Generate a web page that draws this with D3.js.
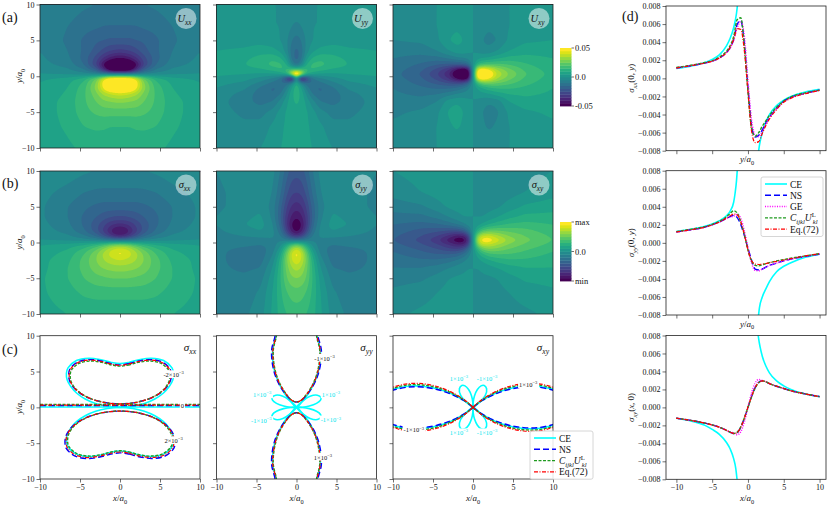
<!DOCTYPE html>
<html>
<head>
<meta charset="utf-8">
<script src="https://cdn.jsdelivr.net/npm/d3@7"></script>
<style>
body { margin: 0; background: #fff; }
svg text { font-family: "Liberation Serif", "DejaVu Serif", serif; fill: #111; }
</style>
</head>
<body>
<div id="chart"></div>
<script>
// ---------- maps (a) and (b): values on a coarse grid (x >= 0 half) ----------
const HX = [0, 0.6, 1.2, 2, 3, 4.5, 6.5, 10];
const HY = [10, 7, 5, 3.5, 2.5, 1.6, 0.9, 0.3, -0.3, -0.9, -1.6, -2.5, -3.5, -5, -7, -10];

// row (a), units of 1e-2 (colour bar -0.05 .. 0.05)
const uxx = [
  [-1.2,-1.2,-1.2,-1.1,-1.0,-0.9,-0.7,-0.5],
  [-1.5,-1.5,-1.5,-1.5,-1.4,-1.3,-1.0,-0.6],
  [-2.1,-2.1,-2.1,-2.0,-1.9,-1.6,-1.1,-0.6],
  [-3.2,-3.1,-3.0,-2.7,-2.2,-1.6,-1.0,-0.5],
  [-4.6,-4.5,-4.2,-3.6,-2.7,-1.7,-0.9,-0.4],
  [-6.0,-6.0,-5.8,-4.8,-3.0,-1.5,-0.7,-0.3],
  [-6.0,-6.0,-5.5,-3.8,-2.0,-0.9,-0.4,-0.1],
  [-1.0,-1.0,-1.0,-0.8,-0.5,-0.3,-0.1, 0.0],
  [ 6.0, 6.0, 5.8, 4.5, 2.6, 1.3, 0.7, 0.4],
  [ 6.0, 6.0, 6.0, 5.0, 3.0, 1.6, 0.9, 0.5],
  [ 6.0, 6.0, 5.8, 4.8, 3.2, 1.8, 1.0, 0.6],
  [ 4.2, 4.1, 3.9, 3.6, 2.8, 1.9, 1.1, 0.6],
  [ 3.1, 3.1, 3.0, 2.9, 2.5, 1.9, 1.2, 0.7],
  [ 2.2, 2.2, 2.2, 2.2, 2.1, 1.8, 1.2, 0.7],
  [ 1.5, 1.5, 1.5, 1.6, 1.6, 1.5, 1.1, 0.7],
  [ 1.0, 1.0, 1.0, 1.0, 1.1, 1.1, 0.9, 0.6]
];
const uyy = [
  [-0.2,-0.2,-0.1, 0.0, 0.0, 0.0, 0.0, 0.0],
  [-0.6,-0.5,-0.2, 0.0, 0.0, 0.1, 0.1, 0.1],
  [-1.3,-1.0,-0.4, 0.0, 0.2, 0.3, 0.3, 0.3],
  [-1.7,-1.3,-0.3, 0.4, 0.7, 0.8, 0.6, 0.5],
  [-1.8,-1.2, 0.3, 1.1, 1.4, 1.2, 0.9, 0.7],
  [-1.3,-0.4, 1.0, 1.7, 1.7, 1.3, 1.0, 0.8],
  [ 2.0, 2.0, 1.6, 1.5, 1.2, 0.9, 0.8, 0.8],
  [ 8.0, 5.0, 1.5, 0.6, 0.4, 0.4, 0.5, 0.6],
  [ 0.0,-6.0,-3.5,-1.2,-0.6,-0.2, 0.2, 0.4],
  [ 1.4,-0.6,-1.4,-1.4,-1.1,-0.6,-0.1, 0.2],
  [ 1.5, 0.6,-0.6,-1.5,-1.6,-1.1,-0.4, 0.0],
  [ 1.3, 0.9, 0.0,-1.0,-1.5,-1.3,-0.7,-0.2],
  [ 1.1, 0.9, 0.4,-0.3,-1.0,-1.2,-0.8,-0.3],
  [ 0.9, 0.8, 0.6, 0.2,-0.3,-0.7,-0.6,-0.3],
  [ 0.7, 0.7, 0.6, 0.4, 0.1,-0.3,-0.4,-0.3],
  [ 0.6, 0.6, 0.6, 0.5, 0.3, 0.0,-0.2,-0.2]
];
const uxy = [
  [0, 0.0, 0.0,-0.1,-0.1, 0.0, 0.1, 0.2],
  [0,-0.1,-0.3,-0.4,-0.3, 0.0, 0.2, 0.3],
  [0,-0.2,-0.5,-0.7,-0.5, 0.1, 0.4, 0.5],
  [0,-0.1,-0.3,-0.3, 0.0, 0.5, 0.8, 0.8],
  [0, 0.3, 0.5, 0.6, 0.9, 1.2, 1.2, 1.0],
  [0, 1.5, 2.0, 2.2, 2.2, 2.0, 1.6, 1.1],
  [0, 5.0, 5.5, 4.8, 3.6, 2.7, 1.9, 1.2],
  [0, 6.0, 6.0, 5.5, 4.0, 3.0, 2.1, 1.3],
  [0, 5.0, 5.5, 4.8, 3.6, 2.7, 1.9, 1.2],
  [0, 1.8, 2.6, 2.8, 2.6, 2.2, 1.7, 1.1],
  [0, 0.6, 1.0, 1.4, 1.6, 1.6, 1.4, 1.0],
  [0, 0.2, 0.3, 0.4, 0.7, 1.0, 1.1, 0.9],
  [0,-0.1,-0.3,-0.4,-0.3, 0.5, 0.8, 0.8],
  [0,-0.2,-0.5,-0.8,-0.6, 0.1, 0.4, 0.6],
  [0,-0.1,-0.4,-0.6,-0.4, 0.0, 0.2, 0.4],
  [0, 0.0, 0.0,-0.1,-0.1, 0.0, 0.1, 0.2]
];
// row (b), relative units (-5 = min, 5 = max)
const sxx = [
  [-0.6,-0.6,-0.6,-0.6,-0.5,-0.4,-0.2, 0.0],
  [-1.1,-1.1,-1.1,-1.1,-1.1,-1.0,-0.7,-0.3],
  [-1.7,-1.7,-1.7,-1.7,-1.6,-1.4,-1.0,-0.4],
  [-2.6,-2.6,-2.5,-2.3,-2.0,-1.6,-1.0,-0.4],
  [-3.7,-3.6,-3.4,-2.9,-2.3,-1.6,-0.9,-0.3],
  [-4.8,-4.6,-4.0,-3.2,-2.3,-1.4,-0.7,-0.2],
  [-4.0,-3.8,-3.3,-2.5,-1.6,-0.9,-0.4,-0.1],
  [-1.0,-1.0,-0.9,-0.7,-0.4,-0.2,-0.1, 0.0],
  [ 3.0, 2.9, 2.6, 2.0, 1.5, 1.0, 0.7, 0.5],
  [ 4.3, 4.2, 3.9, 3.2, 2.4, 1.6, 1.0, 0.6],
  [ 4.7, 4.5, 4.2, 3.7, 2.9, 2.0, 1.2, 0.7],
  [ 4.0, 3.9, 3.8, 3.5, 3.0, 2.2, 1.4, 0.8],
  [ 3.3, 3.3, 3.2, 3.1, 2.8, 2.2, 1.5, 0.8],
  [ 2.5, 2.5, 2.5, 2.4, 2.3, 2.0, 1.5, 0.9],
  [ 1.7, 1.7, 1.7, 1.7, 1.7, 1.6, 1.3, 0.9],
  [ 1.1, 1.1, 1.1, 1.1, 1.1, 1.1, 1.0, 0.8]
];
const syy = [
  [-2.3,-2.2,-1.8,-1.0,-0.3, 0.0,-0.2,-0.5],
  [-3.0,-2.9,-2.4,-1.4,-0.5,-0.1,-0.3,-0.6],
  [-3.8,-3.6,-3.0,-1.8,-0.7,-0.1,-0.3,-0.6],
  [-4.5,-4.2,-3.4,-1.9,-0.6, 0.1,-0.1,-0.5],
  [-5.0,-4.6,-3.5,-1.7,-0.4, 0.2, 0.0,-0.5],
  [-4.8,-4.3,-3.0,-1.3,-0.3, 0.0,-0.2,-0.6],
  [-3.5,-3.0,-2.0,-0.9,-0.4,-0.4,-0.5,-0.7],
  [-1.0,-0.9,-0.7,-0.6,-0.6,-0.7,-0.7,-0.8],
  [ 2.5, 2.0, 1.0,-0.2,-0.8,-1.0,-0.9,-0.8],
  [ 4.2, 3.5, 2.0, 0.3,-0.8,-1.2,-1.1,-0.9],
  [ 4.8, 4.2, 2.8, 0.8,-0.6,-1.3,-1.2,-0.9],
  [ 4.5, 4.0, 3.0, 1.2,-0.3,-1.2,-1.2,-0.9],
  [ 3.8, 3.5, 2.8, 1.4, 0.0,-1.0,-1.1,-0.9],
  [ 3.0, 2.9, 2.5, 1.5, 0.3,-0.7,-0.9,-0.9],
  [ 2.3, 2.2, 2.0, 1.4, 0.5,-0.4,-0.8,-0.9],
  [ 1.7, 1.7, 1.5, 1.2, 0.6,-0.2,-0.6,-0.8]
];
const sxy = [
  [0,-0.1,-0.2,-0.3,-0.3,-0.3,-0.2, 0.0],
  [0,-0.1,-0.2,-0.3,-0.3,-0.2, 0.0, 0.3],
  [0,-0.1,-0.2,-0.2,-0.1, 0.2, 0.6, 0.8],
  [0, 0.0, 0.0, 0.2, 0.5, 0.9, 1.2, 1.2],
  [0, 0.3, 0.6, 1.0, 1.3, 1.6, 1.7, 1.5],
  [0, 1.3, 2.2, 2.6, 2.6, 2.4, 2.2, 1.7],
  [0, 3.2, 4.2, 4.3, 3.7, 3.0, 2.5, 1.9],
  [0, 4.0, 5.0, 5.0, 4.4, 3.4, 2.7, 2.0],
  [0, 3.0, 4.0, 4.0, 3.5, 2.9, 2.4, 1.8],
  [0, 1.6, 2.6, 3.0, 2.9, 2.5, 2.1, 1.6],
  [0, 0.8, 1.4, 1.9, 2.0, 2.0, 1.8, 1.4],
  [0, 0.3, 0.6, 0.9, 1.2, 1.4, 1.4, 1.2],
  [0, 0.0, 0.1, 0.3, 0.5, 0.8, 1.0, 1.0],
  [0,-0.1,-0.1,-0.1, 0.0, 0.3, 0.6, 0.7],
  [0,-0.1,-0.2,-0.2,-0.2, 0.0, 0.2, 0.4],
  [0,-0.1,-0.2,-0.2,-0.3,-0.2,-0.1, 0.1]
];

// ---------- row (c): contour lines ----------
const sxxLoopCE  = [[0,6.1],[1.1,6.27],[2.4,6.65],[3.9,6.86],[5.45,6.53],[6.5,5.5],[6.7,4.7],[6.6,3.8],[6.15,2.9],[5.4,1.97],[4.35,1.17],[3.05,0.54],[1.6,0.15],[0,0]];
const sxxLoopReg = [[0,6.05],[1.1,6.22],[2.4,6.6],[3.9,6.8],[5.4,6.45],[6.4,5.45],[6.55,4.7],[6.45,3.85],[6.0,2.95],[5.2,2.1],[4.1,1.4],[2.8,0.9],[1.4,0.6],[0,0.5]];
const sxxUpScale  = [0.98, 0.95, 0.97];   // NS, CU, Eq
const sxxLowScale = [1.05, 1.0, 1.03];
const sxxZeroY = [0.05, 0.25, 0.4, 0.3];   // CE, NS, CU, Eq

const syyLensCE  = [[0,0],[0.62,0.69],[1.41,1.8],[2.08,3.09],[2.6,4.5],[2.95,6.34],[2.96,8.12],[2.6,9.7],[2.45,10.5],[1.5,11.5],[0,12]];
const syyLensReg = [[0,0.75],[0.6,1.0],[1.3,1.85],[2.0,3.05],[2.55,4.5],[2.9,6.3],[2.95,8.1],[2.6,9.7],[2.45,10.5],[1.5,11.5],[0,12]];
const syyXScale = [1.05, 0.98, 1.0];
const syyPetal = [[0,0],[0.7,0.02],[1.6,0.18],[2.5,0.55],[3.0,1.0],[3.05,1.4],[2.6,1.7],[1.7,1.55],[0.8,0.9]];

const sxyBranch = [[0,0],[0.45,0.42],[1.22,1.03],[2.75,1.93],[4.5,2.6],[6.33,2.95],[8.1,2.95],[9.7,2.6],[10.5,2.3]];
const sxyYScale = [0.96, 1.06, 1.12];
const sxyPetal = [[0,0],[0.02,0.7],[0.18,1.6],[0.55,2.5],[1.0,3.0],[1.4,3.05],[1.7,2.6],[1.55,1.7],[0.9,0.8]];

// ---------- column (d): profiles, units of 1e-3 ----------
const XD = [-10,-8,-6,-5,-4,-3,-2.5,-2,-1.5,-1,-0.5,0,0.5,1,1.5,2,2.5,3,4,5,6,8,10];

const d1NS = [1.15,1.4,1.7,1.9,2.25,2.85,3.4,4.3,6.0,6.4,3.8,-1.0,-5.2,-6.5,-6.3,-5.7,-4.95,-4.3,-3.3,-2.55,-2.1,-1.65,-1.3];
const d1GE = [1.15,1.4,1.7,1.9,2.25,2.85,3.35,4.2,5.6,6.3,4.6,-0.3,-4.6,-6.3,-6.45,-5.85,-5.05,-4.35,-3.35,-2.6,-2.15,-1.65,-1.3];
const d1CU = [1.2,1.45,1.75,1.95,2.35,3.0,3.6,4.6,6.5,6.7,3.5,-1.5,-5.5,-6.4,-6.0,-5.3,-4.7,-4.1,-3.2,-2.5,-2.05,-1.6,-1.3];
const d1Eq = [1.15,1.4,1.7,1.9,2.25,2.85,3.4,4.3,5.5,5.4,3.0,-1.5,-5.8,-7.1,-7.0,-6.1,-5.2,-4.5,-3.45,-2.65,-2.2,-1.7,-1.35];
const d1CEx = [[-10,-8,-6,-5,-4,-3,-2.5,-2,-1.6,-1.4], [1.4,1.6,2,2.5,3,4,5,6,8,10]];
const d1CEy = [[1.1,1.35,1.75,2.1,2.6,3.6,4.4,5.6,7.2,8.6], [-8.6,-7.4,-6.0,-4.8,-4.0,-3.0,-2.4,-2.0,-1.5,-1.2]];

const d2NS = [1.2,1.45,1.75,2.0,2.3,2.7,2.9,3.05,2.8,2.0,0.8,-0.6,-1.9,-2.9,-3.0,-2.9,-2.7,-2.5,-2.25,-2.0,-1.8,-1.5,-1.25];
const d2GE = [1.2,1.45,1.75,2.0,2.3,2.7,2.85,2.95,3.15,2.7,1.3,-0.5,-2.2,-3.05,-3.1,-2.9,-2.7,-2.5,-2.25,-2.0,-1.8,-1.5,-1.25];
const d2CU = [1.25,1.5,1.8,2.05,2.4,2.9,3.25,3.55,3.3,2.3,0.9,-0.8,-2.0,-2.5,-2.55,-2.45,-2.3,-2.2,-2.0,-1.85,-1.7,-1.45,-1.2];
const d2Eq = [1.2,1.45,1.75,2.0,2.3,2.75,3.0,3.2,3.1,2.3,0.9,-0.8,-2.0,-2.35,-2.4,-2.35,-2.3,-2.2,-2.05,-1.9,-1.75,-1.45,-1.2];
const d2CEx = [[-10,-8,-6,-5,-4,-3,-2.5,-2,-1.8,-1.6,-1.45], [1.4,1.6,2,2.5,3,4,5,6,8,10]];
const d2CEy = [[1.25,1.5,1.85,2.1,2.45,3.0,3.5,4.5,5.5,6.9,8.6], [-8.6,-7.2,-6.0,-5.1,-4.3,-3.2,-2.6,-2.2,-1.6,-1.25]];

const d3NS = [-1.2,-1.45,-1.75,-1.95,-2.2,-2.55,-2.75,-2.9,-2.8,-2.2,-1.2,0,1.2,2.2,2.8,2.95,2.85,2.65,2.35,2.1,1.85,1.5,1.2];
const d3GE = [-1.2,-1.45,-1.75,-1.95,-2.2,-2.55,-2.75,-2.85,-3.05,-2.7,-1.6,0,1.6,2.7,3.1,3.0,2.85,2.65,2.35,2.1,1.85,1.5,1.2];
const d3CU = [-1.2,-1.45,-1.75,-1.95,-2.2,-2.55,-2.75,-2.9,-2.75,-2.15,-1.15,0,1.15,2.15,2.75,2.95,2.85,2.65,2.35,2.1,1.85,1.5,1.2];
const d3Eq = [-1.2,-1.45,-1.75,-1.95,-2.2,-2.55,-2.75,-2.9,-2.8,-2.2,-1.2,0.05,1.2,2.2,2.8,2.95,2.85,2.65,2.35,2.1,1.85,1.5,1.2];
const d3CEx = [[-10,-8,-6,-5,-4,-3,-2.5,-2,-1.7,-1.45], [1.35,1.5,1.7,2,2.5,3,4,5,6,8,10]];
const d3CEy = [[-1.2,-1.5,-2.0,-2.45,-3.0,-3.9,-4.6,-5.7,-6.8,-8.6], [8.6,7.6,6.7,5.7,4.6,3.85,2.95,2.4,2.0,1.5,1.2]];

const gridTicks = [-10, -5, 0, 5, 10];
const dTicks = [-8, -6, -4, -2, 0, 2, 4, 6, 8];

// ---------- drawing ----------
const FONT = '"Liberation Serif", "DejaVu Serif", serif';
const svg = d3.select("#chart").append("svg").attr("width", 831).attr("height", 505)
  .attr("font-family", FONT);
const defs = svg.append("defs");

const colX = [40, 216.5, 393];
const rowY = [[4.5, 148], [171, 314], [335.7, 479]];
const PW = 160;

const styles = {
  CE: { c: "#00ffff", w: 1.6, dash: null },
  NS: { c: "#0000ff", w: 1.4, dash: "6,3" },
  GE: { c: "#ff00ff", w: 1.5, dash: "1,1.4" },
  CU: { c: "#1f9a1f", w: 1.4, dash: "3,1.5" },
  Eq: { c: "#ff0000", w: 1.2, dash: "4,1.5,1,1.5" }
};

function rich(sel, parts, fs) {
  let shift = 0;
  parts.forEach(([s, k, dx]) => {
    const target = k.includes("sub") ? fs * 0.3 : k.includes("sup") ? -fs * 0.42 : 0;
    const t = sel.append("tspan").text(s).attr("dy", target - shift);
    if (dx) t.attr("dx", dx);
    shift = target;
    if (k.includes("i")) t.attr("font-style", "italic");
    if (target !== 0) t.attr("font-size", fs * 0.7);
  });
  return sel;
}

function label(x, y, parts, fs, anchor, rotate) {
  const t = svg.append("text").attr("font-size", fs).attr("font-family", FONT)
    .attr("text-anchor", anchor || "middle");
  if (rotate) t.attr("transform", `translate(${x},${y}) rotate(-90)`);
  else t.attr("x", x).attr("y", y);
  return rich(t, parts, fs);
}

function axes(x0, y0, y1, sx, sy, xTicks, yTicks, xLab, yLab, yFmt) {
  const g = svg.append("g");
  const xa = d3.axisBottom(sx).tickValues(xTicks).tickSize(3.5).tickSizeOuter(0).tickPadding(1.5)
    .tickFormat(xLab ? d3.format("") : "");
  const ya = d3.axisLeft(sy).tickValues(yTicks).tickSize(3.5).tickSizeOuter(0).tickPadding(2)
    .tickFormat(yLab ? (yFmt || d3.format("")) : "");
  g.append("g").attr("transform", `translate(0,${y1})`).call(xa);
  g.append("g").attr("transform", `translate(${x0},0)`).call(ya);
  g.selectAll("g").attr("font-family", FONT);
  g.selectAll(".domain").remove();
  g.selectAll(".tick line").attr("stroke", "#333").attr("stroke-width", 0.7);
  g.selectAll(".tick text").attr("font-size", 8).attr("fill", "#222").attr("font-family", FONT);
  svg.append("rect").attr("x", x0).attr("y", y0).attr("width", sx.range()[1] - x0).attr("height", y1 - y0)
    .attr("fill", "none").attr("stroke", "#222").attr("stroke-width", 0.8);
}

// filled contour maps
const levels = [-1e6].concat(d3.range(-4.5, 4.51, 0.5));
const levelColor = L => d3.interpolateViridis(L < -100 ? 0 : L >= 4.5 ? 1 : (L + 0.25 + 5) / 10);

function heat(grid, parity, x0, y0, y1) {
  const xs = HX.slice(1).reverse().map(v => -v).concat(HX);
  const ys = HY.slice().reverse();
  const rows = grid.slice().reverse().map(r => r.slice(1).reverse().map(v => parity * v).concat(r));
  const nx = 160, ny = Math.round(y1 - y0);
  const vals = new Float64Array(nx * ny);
  const locate = (arr, v) => {
    const i = Math.min(Math.max(d3.bisectRight(arr, v) - 1, 0), arr.length - 2);
    return [i, (v - arr[i]) / (arr[i + 1] - arr[i])];
  };
  for (let j = 0; j < ny; j++) {
    const [r, ty] = locate(ys, 10 - (j + 0.5) * 20 / ny);
    for (let i = 0; i < nx; i++) {
      const [c, tx] = locate(xs, -10 + (i + 0.5) * 20 / nx);
      const a = rows[r][c] * (1 - tx) + rows[r][c + 1] * tx;
      const b = rows[r + 1][c] * (1 - tx) + rows[r + 1][c + 1] * tx;
      vals[j * nx + i] = a * (1 - ty) + b * ty;
    }
  }
  if (d3.blur2) d3.blur2({ data: vals, width: nx, height: ny }, 1.2);
  const sxp = PW / nx, syp = (y1 - y0) / ny;
  const path = d3.geoPath(d3.geoTransform({
    point(x, y) { this.stream.point(x0 + x * sxp, y0 + y * syp); }
  }));
  const contours = d3.contours().size([nx, ny]).thresholds(levels)(vals);
  svg.append("g").selectAll("path").data(contours).join("path")
    .attr("d", path).attr("fill", d => levelColor(d.value));
}

function badge(x0, y0, name, sub) {
  const cx = x0 + PW - 14, cy = y0 + 14;
  svg.append("circle").attr("cx", cx).attr("cy", cy).attr("r", 10.5).attr("fill", "#fff").attr("opacity", 0.5);
  label(cx - 1.5, cy + 3, [[name, "i"], [sub, "isub"]], 10.5);
}

const heatPanels = [
  [[uxx, 1, "U", "xx"], [uyy, 1, "U", "yy"], [uxy, -1, "U", "xy"]],
  [[sxx, 1, "σ", "xx"], [syy, 1, "σ", "yy"], [sxy, -1, "σ", "xy"]]
];
heatPanels.forEach((row, ri) => {
  const [y0, y1] = rowY[ri];
  row.forEach(([grid, par, n, s], ci) => {
    const x0 = colX[ci];
    heat(grid, par, x0, y0, y1);
    const sx = d3.scaleLinear().domain([-10, 10]).range([x0, x0 + PW]);
    const sy = d3.scaleLinear().domain([-10, 10]).range([y1, y0]);
    axes(x0, y0, y1, sx, sy, gridTicks, gridTicks, false, ci === 0);
    badge(x0, y0, n, s);
  });
});

// colour bars
function colorbar(y0, y1, ticks) {
  const n = 20, h = (y1 - y0) / n;
  const g = svg.append("g");
  d3.range(n).forEach(i => {
    g.append("rect").attr("x", 560).attr("y", y1 - (i + 1) * h).attr("width", 11.5).attr("height", h + 0.4)
      .attr("fill", d3.interpolateViridis(i / (n - 1)));
  });
  ticks.forEach(([frac, txt]) => {
    const y = y1 - frac * (y1 - y0);
    g.append("line").attr("x1", 571.5).attr("x2", 574).attr("y1", y).attr("y2", y).attr("stroke", "#333").attr("stroke-width", 0.7);
    g.append("text").attr("x", 575).attr("y", y + 3).attr("font-size", 8.5).attr("font-family", FONT).text(txt);
  });
}
colorbar(48, 106, [[1, "0.05"], [0.5, "0.0"], [0, "-0.05"]]);
colorbar(222, 281, [[1, "max"], [0.5, "0.0"], [0, "min"]]);

// row (c) line contours
const mx = pts => pts.map(([x, y]) => [-x, y]);
const my = pts => pts.map(([x, y]) => [x, -y]);
const loop = half => half.concat(mx(half).reverse().slice(1, -1));
const scalePts = (pts, ax, ay) => pts.map(([x, y]) => [x * ax, y * ay]);
const regNames = ["NS", "CU", "Eq"];

function linePanel(ci) {
  const x0 = colX[ci], [y0, y1] = rowY[2];
  const sx = d3.scaleLinear().domain([-10, 10]).range([x0, x0 + PW]);
  const sy = d3.scaleLinear().domain([-10, 10]).range([y1, y0]);
  const id = "clipc" + ci;
  defs.append("clipPath").attr("id", id).append("rect").attr("x", x0).attr("y", y0).attr("width", PW).attr("height", y1 - y0);
  const g = svg.append("g").attr("clip-path", `url(#${id})`);
  const draw = (pts, key, closed) => {
    const st = styles[key];
    g.append("path").attr("d", d3.line().x(d => sx(d[0])).y(d => sy(d[1]))
        .curve(closed ? d3.curveCatmullRomClosed : d3.curveCatmullRom)(pts))
      .attr("fill", "none").attr("stroke", st.c).attr("stroke-width", st.w)
      .attr("stroke-dasharray", st.dash);
  };
  return { sx, sy, g, draw, x0, y0, y1 };
}

function inlineLabel(P, x, y, parts, color) {
  const t = P.g.append("text").attr("x", P.sx(x)).attr("y", P.sy(y) + 2).attr("text-anchor", "middle")
    .attr("font-size", 6.5).attr("font-family", FONT).style("fill", color);
  rich(t, parts, 6.5);
  const b = t.node().getBBox();
  P.g.insert("rect", () => t.node()).attr("x", b.x - 1).attr("y", b.y).attr("width", b.width + 2)
    .attr("height", b.height).attr("fill", "#fff");
}

const m3 = [["×10", "n"], ["−3", "sup"]];
// sigma_xx
{
  const P = linePanel(0);
  P.draw([[-10, sxxZeroY[0]], [10, sxxZeroY[0]]], "CE");
  P.draw(loop(sxxLoopCE), "CE", true);
  P.draw(my(loop(sxxLoopCE)), "CE", true);
  regNames.forEach((k, i) => {
    P.draw([[-10, sxxZeroY[i + 1]], [10, sxxZeroY[i + 1]]], k);
    P.draw(scalePts(loop(sxxLoopReg), sxxUpScale[i], sxxUpScale[i]), k, true);
    P.draw(my(scalePts(loop(sxxLoopReg), sxxLowScale[i], sxxLowScale[i])), k, true);
  });
  inlineLabel(P, 6.7, 4.5, [["-2", "n"]].concat(m3), "#111");
  inlineLabel(P, 6.7, -4.7, [["2", "n"]].concat(m3), "#111");
  inlineLabel(P, 7.8, 0.2, [["0", "n"]], "#111");
}
// sigma_yy
{
  const P = linePanel(1);
  P.draw(loop(syyLensCE), "CE", true);
  P.draw(my(loop(syyLensCE)), "CE", true);
  [syyPetal, mx(syyPetal), my(syyPetal), mx(my(syyPetal))].forEach(p => P.draw(p, "CE", true));
  regNames.forEach((k, i) => {
    P.draw(scalePts(loop(syyLensReg), syyXScale[i], 1), k, true);
    P.draw(my(scalePts(loop(syyLensReg), syyXScale[i], 1)), k, true);
  });
  inlineLabel(P, 3.5, 6.8, [["-1", "n"]].concat(m3), "#111");
  inlineLabel(P, 3.3, -7.0, [["1", "n"]].concat(m3), "#111");
  inlineLabel(P, -4.3, 1.7, [["1", "n"]].concat(m3), "#00e5ee");
  inlineLabel(P, 4.3, 1.7, [["1", "n"]].concat(m3), "#00e5ee");
  inlineLabel(P, -4.4, -1.9, [["-1", "n"]].concat(m3), "#00e5ee");
  inlineLabel(P, 4.3, -1.8, [["-1", "n"]].concat(m3), "#00e5ee");
}
// sigma_xy
{
  const P = linePanel(2);
  const branches = b => [b, mx(b), my(b), mx(my(b))];
  branches(sxyBranch).forEach(b => P.draw(b, "CE"));
  branches(sxyPetal).forEach(p => P.draw(p, "CE", true));
  regNames.forEach((k, i) => branches(scalePts(sxyBranch, 1, sxyYScale[i])).forEach(b => P.draw(b, k)));
  inlineLabel(P, 6.9, 3.1, [["1", "n"]].concat(m3), "#111");
  inlineLabel(P, -7.4, -3.2, [["-1", "n"]].concat(m3), "#111");
  inlineLabel(P, -1.75, 3.95, [["1", "n"]].concat(m3), "#00e5ee");
  inlineLabel(P, 1.75, 3.95, [["-1", "n"]].concat(m3), "#00e5ee");
  inlineLabel(P, -1.75, -3.6, [["1", "n"]].concat(m3), "#00e5ee");
  inlineLabel(P, 1.75, -3.6, [["-1", "n"]].concat(m3), "#00e5ee");
}
[0, 1, 2].forEach(ci => {
  const x0 = colX[ci], [y0, y1] = rowY[2];
  const sx = d3.scaleLinear().domain([-10, 10]).range([x0, x0 + PW]);
  const sy = d3.scaleLinear().domain([-10, 10]).range([y1, y0]);
  axes(x0, y0, y1, sx, sy, gridTicks, gridTicks, true, ci === 0);
  label(x0 + 80, 501, [["x", "i"], ["/", "n"], ["a", "i"], ["0", "sub"]], 9);
  label(x0 + PW - 10, y0 + 15, [["σ", "i"], [["xx", "yy", "xy"][ci], "isub"]], 11);
});

// legends
function legend(x, y, w, keys, names) {
  const h = keys.length * 11.3 + 3;
  svg.append("rect").attr("x", x).attr("y", y).attr("width", w).attr("height", h).attr("rx", 2)
    .attr("fill", "#fff").attr("fill-opacity", 0.85).attr("stroke", "#ccc").attr("stroke-width", 0.8);
  keys.forEach((k, i) => {
    const yy = y + 7 + i * 11.3, st = styles[k];
    svg.append("line").attr("x1", x + 4).attr("x2", x + 26).attr("y1", yy).attr("y2", yy)
      .attr("stroke", st.c).attr("stroke-width", st.w).attr("stroke-dasharray", st.dash);
    label(x + 29, yy + 3.5, names[k], 9.5, "start");
  });
}
const legendNames = {
  CE: [["CE", "n"]], NS: [["NS", "n"]], GE: [["GE", "n"]],
  CU: [["C", "i"], ["ijkl", "isub"], ["U", "i"], ["L", "sup"], ["kl", "isub", -3]],
  Eq: [["Eq.(72)", "n"]]
};
legend(530, 431, 63, ["CE", "NS", "CU", "Eq"], legendNames);

// column (d)
const dRows = [[6, 150.7], [170.7, 315], [335.5, 479.3]];
const dSeries = [
  { NS: d1NS, GE: d1GE, CU: d1CU, Eq: d1Eq, cx: d1CEx, cy: d1CEy, yl: "xx", arg: [["(0, ", "n"], ["y", "i"], [")", "n"]], xl: "y" },
  { NS: d2NS, GE: d2GE, CU: d2CU, Eq: d2Eq, cx: d2CEx, cy: d2CEy, yl: "yy", arg: [["(0, ", "n"], ["y", "i"], [")", "n"]], xl: "y" },
  { NS: d3NS, GE: d3GE, CU: d3CU, Eq: d3Eq, cx: d3CEx, cy: d3CEy, yl: "xy", arg: [["(", "n"], ["x", "i"], [", 0)", "n"]], xl: "x" }
];
dSeries.forEach((S, ri) => {
  const [y0, y1] = dRows[ri];
  const sx = d3.scaleLinear().domain([-11.45, 10.9]).range([666, 826]);
  const sy = d3.scaleLinear().domain([-8, 8]).range([y1, y0]);
  const id = "clipd" + ri;
  defs.append("clipPath").attr("id", id).append("rect").attr("x", 666).attr("y", y0).attr("width", 160).attr("height", y1 - y0);
  const g = svg.append("g").attr("clip-path", `url(#${id})`);
  const line = d3.line().x(d => sx(d[0])).y(d => sy(d[1])).curve(d3.curveMonotoneX);
  const put = (pts, k) => g.append("path").attr("d", line(pts)).attr("fill", "none")
    .attr("stroke", styles[k].c).attr("stroke-width", styles[k].w).attr("stroke-dasharray", styles[k].dash);
  S.cx.forEach((xs, b) => put(xs.map((x, i) => [x, S.cy[b][i]]), "CE"));
  ["NS", "GE", "CU", "Eq"].forEach(k => put(XD.map((x, i) => [x, S[k][i]]), k));
  axes(666, y0, y1, sx, sy, gridTicks, dTicks, ri === 2, true, v => d3.format(".3f")(v / 1000));
  label(634, (y0 + y1) / 2, [["σ", "i"], [S.yl, "isub"]].concat(S.arg), 9, "middle", true);
  label(747, ri === 2 ? 501 : y1 + 11.5, [[S.xl, "i"], ["/", "n"], ["a", "i"], ["0", "sub"]], 9);
});
legend(761, 177, 62, ["CE", "NS", "GE", "CU", "Eq"], legendNames);

// row / panel letters
label(2, 22, [["(a)", "n"]], 14, "start");
label(2, 188, [["(b)", "n"]], 14, "start");
label(2, 354, [["(c)", "n"]], 14, "start");
label(622, 21, [["(d)", "n"]], 14, "start");
[[76], [242.5], [407]].forEach(([cy]) => label(22, cy, [["y", "i"], ["/", "n"], ["a", "i"], ["0", "sub"]], 9, "middle", true));
</script>
</body>
</html>
